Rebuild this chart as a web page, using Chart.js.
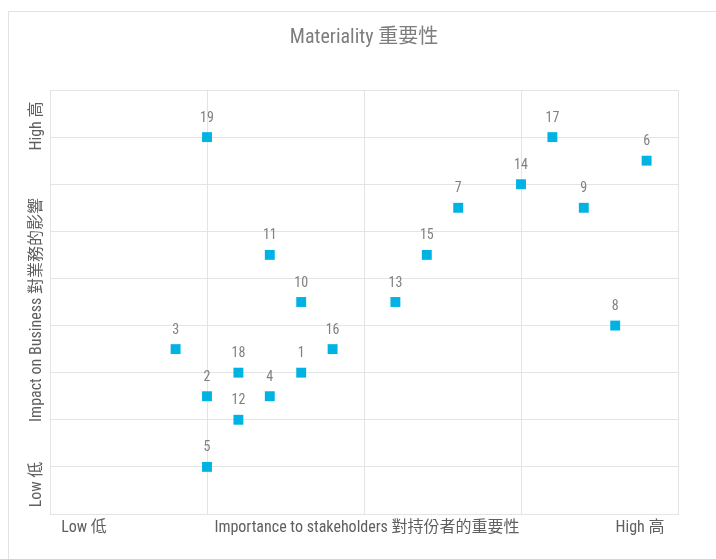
<!DOCTYPE html>
<html>
<head>
<meta charset="utf-8">
<script src="https://cdn.jsdelivr.net/npm/chart.js@4/dist/chart.umd.min.js"></script>
<style>
  html, body { margin: 0; padding: 0; background: #fff; overflow: hidden; }
  #frame { position: absolute; left: 8px; top: 11px; width: 2000px; height: 2000px;
           border-left: 1px solid #e3e3e3; border-top: 1px solid #e3e3e3; }
  #wrap { position: absolute; left: 0; top: 0; width: 716px; height: 559px; }
</style>
</head>
<body>
<div id="frame"></div>
<div id="wrap"><canvas id="c" width="716" height="559"></canvas></div>
<script>
// Issue numbers and their scores
const issueIds = [19, 17, 6, 14, 7, 9, 11, 15, 10, 13, 8, 3, 16, 18, 1, 2, 4, 12, 5];
// Importance to stakeholders (x)
const stakeholderScores = [5, 16, 19, 15, 13, 17, 7, 12, 8, 11, 18, 4, 9, 6, 8, 5, 7, 6, 5];
// Impact on business (y)
const businessScores = [16, 16, 15, 14, 13, 13, 11, 11, 9, 9, 8, 7, 7, 6, 6, 5, 5, 4, 2];

const chartTitle = 'Materiality 重要性';
const xAxisLabels = ['Low 低', 'Importance to stakeholders 對持份者的重要性', 'High 高'];
const yAxisLabels = ['Low 低', 'Impact on Business 對業務的影響', 'High 高'];

const FONT = "'Liberation Sans Narrow', 'Roboto Condensed', 'DejaVu Sans Condensed', 'Noto Sans CJK TC', sans-serif";
const GRID = '#e4e4e4';

const points = issueIds.map((id, i) => ({ x: stakeholderScores[i], y: businessScores[i], id }));

// Number above each marker
const pointLabels = {
  id: 'pointLabels',
  afterDatasetsDraw(chart) {
    const ctx = chart.ctx;
    const meta = chart.getDatasetMeta(0);
    ctx.save();
    ctx.font = '14px ' + FONT;
    ctx.fillStyle = '#808080';
    ctx.textAlign = 'center';
    ctx.textBaseline = 'middle';
    meta.data.forEach((el, i) => {
      ctx.fillText(String(points[i].id), el.x, el.y - 19);
    });
    ctx.restore();
  }
};

// Low / title / High captions along both axes
const axisCaptions = {
  id: 'axisCaptions',
  afterDraw(chart) {
    const { ctx, chartArea: a } = chart;
    ctx.save();
    ctx.font = '16px ' + FONT;
    ctx.fillStyle = '#5f5f5f';
    ctx.textAlign = 'center';
    ctx.textBaseline = 'middle';
    const yb = a.bottom + 14;
    ctx.fillText(xAxisLabels[0], a.left + 34, yb);
    ctx.fillText(xAxisLabels[1], (a.left + a.right) / 2 + 3, yb);
    ctx.fillText(xAxisLabels[2], a.right - 38, yb);

    const xl = a.left - 13;
    const ys = [a.bottom - 29.5, (a.top + a.bottom) / 2 + 8, a.top + 36];
    yAxisLabels.forEach((t, i) => {
      ctx.save();
      ctx.translate(xl, ys[i]);
      ctx.rotate(-Math.PI / 2);
      ctx.fillText(t, 0, 0);
      ctx.restore();
    });
    ctx.restore();
  }
};

new Chart(document.getElementById('c'), {
  type: 'scatter',
  data: {
    datasets: [{
      data: points,
      pointStyle: 'rect',
      pointRadius: 7,
      pointHoverRadius: 7,
      backgroundColor: '#00b3e3',
      borderColor: '#00b3e3',
      borderWidth: 0
    }]
  },
  options: {
    responsive: false,
    animation: false,
    layout: { padding: { left: 50, right: 38, bottom: 45 } },
    plugins: {
      legend: { display: false },
      tooltip: { enabled: false },
      title: {
        display: true,
        text: chartTitle,
        color: '#7d7d7d',
        font: { family: FONT, size: 20, weight: 'normal' },
        padding: { top: 26, bottom: 40 }
      }
    },
    scales: {
      x: {
        type: 'linear',
        min: 0, max: 20,
        ticks: { stepSize: 5, display: false },
        grid: { color: GRID, drawTicks: false, lineWidth: 1 },
        border: { color: GRID }
      },
      y: {
        type: 'linear',
        min: 0, max: 18,
        ticks: { stepSize: 2, display: false },
        grid: { color: GRID, drawTicks: false, lineWidth: 1 },
        border: { color: GRID }
      }
    }
  },
  plugins: [pointLabels, axisCaptions]
});
</script>
</body>
</html>
